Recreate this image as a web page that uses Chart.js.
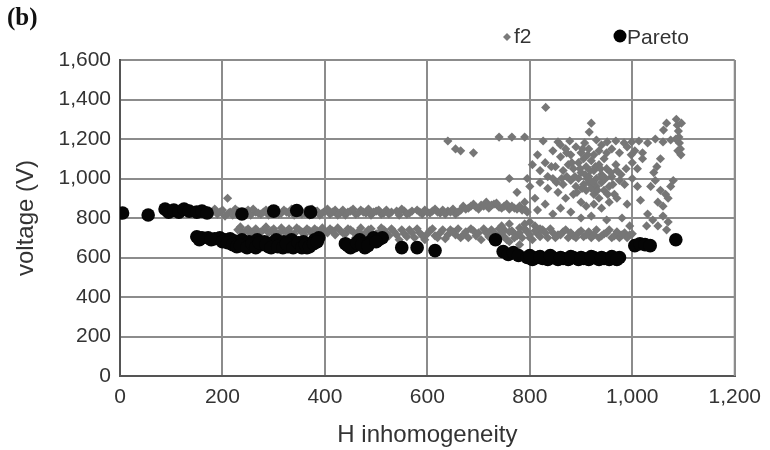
<!DOCTYPE html>
<html>
<head>
<meta charset="utf-8">
<script src="https://cdn.jsdelivr.net/npm/chart.js@4/dist/chart.umd.min.js"></script>
<style>
  html, body { margin: 0; padding: 0; background: #fff; }
  #wrap { width: 770px; height: 450px; position: relative; }
</style>
</head>
<body>
<div id="wrap"><canvas id="c" width="770" height="450"></canvas></div>
<script>
// ---- data ----
const xTicks = [0, 200, 400, 600, 800, 1000, 1200];
const yTicks = [0, 200, 400, 600, 800, 1000, 1200, 1400, 1600];
const seriesNames = ["f2", "Pareto"];

// f2: upper band (~800-880 V)
const f2Upper = [
  [180,830],[190,820],[200,840],[205,810],[210,900],[215,830],[220,815],[230,835],[240,825],[250,840],
  [255,815],[265,830],[275,820],[285,840],[290,815],[300,830],[310,820],[320,840],[330,825],[340,815],
  [345,835],[355,820],[365,840],[380,825],[390,815],[400,835],[410,820],[420,840],[430,825],[440,815],
  [450,835],[460,820],[470,840],[480,825],[490,815],[500,835],[510,820],[520,840],[530,830],[545,815],
  [555,835],[565,825],[580,840],[590,820],[600,830],[615,845],[625,825],[640,835],[655,820],[665,840],
  [670,860],[680,850],[690,870],[700,845],[705,865],[715,880],[720,850],[730,870],[740,855],[750,860],
  [760,845],[770,850],[785,840],[795,830]
];
const f2UpperB = [
  [185,845],[195,830],[212,825],[225,845],[235,815],[245,830],[260,845],[270,825],[280,830],[295,845],
  [305,835],[315,825],[325,830],[335,845],[350,830],[360,825],[370,815],[375,845],[385,835],[395,825],
  [405,845],[415,830],[425,815],[435,840],[445,830],[455,845],[465,825],[475,830],[485,845],[495,830],
  [505,840],[515,825],[525,820],[540,835],[550,845],[560,820],[570,835],[585,830],[595,840],[605,825],
  [610,835],[620,830],[630,840],[635,820],[645,830],[650,845],[660,830],[675,845],[685,860],[695,855],
  [710,860],[725,865],[735,875],[745,850],[755,870],[765,860],[775,845],[780,860],[790,845]
];
// f2: lower band (~680-780 V)
const f2Lower = [
  [230,740],[240,725],[250,745],[260,730],[270,715],[280,740],[290,725],[300,745],[310,720],[320,735],
  [330,745],[340,720],[350,740],[360,715],[370,735],[380,745],[390,720],[400,730],[410,745],[420,715],
  [430,735],[440,720],[450,740],[460,700],[465,730],[475,715],[485,740],[495,700],[505,725],[515,740],
  [525,710],[535,730],[545,690],[555,720],[565,740],[575,700],[585,725],[595,690],[605,735],[615,710],
  [625,725],[635,695],[645,740],[655,715],[665,700],[675,730],[685,745],[695,710],[705,690],[715,725],
  [725,740],[735,700],[745,720],[755,690],[765,735],[775,710],[785,700],[795,730],[805,690],[815,720],
  [825,740],[835,700],[845,725],[855,715],[865,730],[875,700],[885,710],[895,725],[905,705],[915,730],
  [925,715],[935,700],[945,720],[955,740],[965,710],[975,700],[985,725],[995,715],
  [745,760],[760,770],[780,750],[790,770],[800,780],[810,760],[820,745],[760,680],[780,665],[800,700],
  [770,720],[750,740]
];
const f2LowerB = [
  [235,755],[245,735],[255,720],[265,745],[275,730],[285,755],[295,735],[305,725],[315,750],[325,730],
  [335,720],[345,750],[355,730],[365,745],[375,725],[385,735],[395,750],[405,725],[415,735],[425,750],
  [435,725],[445,745],[455,730],[470,750],[480,725],[490,745],[500,720],[510,750],[520,725],[530,745],
  [540,715],[550,740],[560,705],[570,725],[580,745],[590,710],[600,720],[610,745],[620,700],[630,740],
  [640,715],[650,730],[660,745],[670,715],[680,700],[690,735],[700,725],[710,745],[720,705],[730,725],
  [740,745],[750,705],[760,730],[770,700],[780,725],[790,745],[800,715],[810,735],[820,705],[830,725],
  [840,745],[850,700],[860,715],[870,740],[880,725],[890,700],[900,735],[910,715],[920,700],[930,740],
  [940,710],[950,725],[960,700],[970,730],[980,715],[990,700],[1000,720]
];
// f2: scattered cloud (x 640-1100, up to ~1360 V)
const f2Cloud = [
  [640,1190],[655,1150],[665,1140],[690,1130],[740,1210],[765,1210],[790,1210],[831,1360],[920,1280],[916,1235],
  [826,1190],[855,1185],[878,1190],[907,1180],[930,1195],[951,1185],[968,1190],[984,1180],[999,1185],[1013,1190],
  [1030,1180],[1045,1200],[1060,1185],[1075,1195],
  [815,1120],[830,1080],[845,1140],[860,1110],[870,1150],[880,1120],[890,1160],[900,1130],[905,1100],[915,1150],
  [925,1120],[935,1140],[945,1100],[960,1150],[975,1130],[990,1160],[1005,1140],[1020,1130],
  [850,1060],[865,1040],[875,1070],[885,1050],[895,1080],[900,1030],[910,1060],[915,1010],[920,1090],[925,1040],
  [930,1000],[935,1070],[940,1020],[950,1050],[960,1010],[970,1040],
  [880,990],[890,960],[895,1000],[905,970],[910,940],[915,980],[920,950],[925,920],[930,960],[935,900],
  [940,980],[945,940],[955,960],[965,920],[975,990],[985,970],
  [820,980],[835,950],[845,1000],[855,930],[865,970],[870,900],[885,920],[900,880],[910,860],[925,870],
  [940,850],[955,880],[970,900],[990,870],
  [760,1000],[775,930],[790,880],[800,960],[810,900],[815,840],[830,870],[845,820],[860,850],[880,830],
  [900,800],[920,810],[950,790],[980,800],[995,760],
  [1016,890],[1036,960],[1045,990],[1055,940],[1065,920],[1075,960],[1080,990],[1050,880],[1060,860],[1070,900],
  [1042,1030],[1048,1060],[1055,1100],[1061,1245],[1067,1280],
  [1030,820],[1040,790],[1050,760],[1060,810],[1070,780],[1067,740],[1028,760],
  [1086,1300],[1088,1270],[1090,1240],[1091,1210],[1092,1180],[1094,1150],[1095,1120],[1096,1280],[1085,1200],[1089,1140],
  [835,1010],[820,1040],[805,1070],[795,1000],[1000,1080],[1010,1050],[1020,1100],[1000,1000],[1010,960],
  [888,1010],[898,1050],[908,1020],[918,1040],[928,1060],[938,1050],[948,1000],[958,1030],[892,930],[902,950],
  [912,1000],[922,980],[932,940],[942,1010],[952,920],[962,970],[872,1010],[882,1080],[862,1000],[852,980],
  [842,1060],[968,1070],[978,1020],[988,1050],[998,1120],[903,1150],[913,1120],[940,1170],[950,1130],[872,1130],
  [860,1170]
];
// Pareto front points
const paretoUpper = [
  [5,825],[55,815],[88,845],[95,830],[105,840],[115,830],[125,845],[135,835],[150,830],[160,835],
  [170,825],[238,820],[300,835],[345,838],[372,830]
];
const paretoLower = [
  [150,705],[160,700],[172,700],[185,695],[195,700],[205,690],[215,695],[222,685],[230,670],[238,690],
  [245,665],[252,680],[260,660],[268,690],[275,665],[282,680],[290,655],[298,675],[305,690],[312,665],
  [320,680],[328,655],[335,690],[342,670],[350,660],[358,680],[365,650],[372,670],[380,690],[388,700],
  [440,670],[450,650],[458,660],[468,690],[478,650],[488,680],[495,700],[505,690],[512,700],[550,650],
  [580,650],[615,635],[733,690],[748,630],[758,615],[768,625],[778,610],[795,600],[805,590],[815,600],
  [825,595],[835,590],[845,600],[855,590],[865,595],[875,590],[885,600],[895,590],[905,595],[915,590],
  [925,600],[935,590],[945,595],[955,590],[965,595],[975,600],[1005,660],[1015,670],[1025,665],[1035,660],
  [1085,690]
];
const paretoLowerB = [
  [155,690],[178,690],[200,680],[210,675],[220,665],[228,655],[235,660],[248,650],[258,670],[265,650],
  [272,675],[285,665],[295,650],[308,655],[318,650],[325,670],[338,650],[348,675],[355,650],[362,665],
  [370,655],[378,670],[385,680],[445,660],[462,675],[472,665],[484,660],[500,680],
  [800,610],[820,605],[840,610],[860,600],[880,605],[900,600],[920,605],[940,600],[960,605],[970,590]
];

const toPts = arr => arr.map(p => ({ x: p[0], y: p[1] }));
const f2Data = toPts([].concat(f2Upper, f2UpperB, f2Lower, f2LowerB, f2Cloud));
const paretoData = toPts([].concat(paretoUpper, paretoLower, paretoLowerB));

const FONT = "'Liberation Sans', Arial, sans-serif";
const TEXT = '#333333';

// chart area placement (pixels)
const AREA = { left: 120, right: 742, top: 60, bottom: 376 };

const overlay = {
  id: 'overlay',
  afterDraw(chart) {
    const ctx = chart.ctx;
    ctx.save();
    ctx.fillStyle = '#111';
    ctx.font = "bold 25px 'Liberation Serif', 'Times New Roman', serif";
    ctx.textBaseline = 'middle';
    ctx.textAlign = 'left';
    ctx.fillText('(b)', 7, 19);
    ctx.font = '21px ' + FONT;
    // f2 marker (diamond)
    ctx.fillStyle = '#7a7a7a';
    ctx.beginPath();
    ctx.moveTo(507, 33); ctx.lineTo(511, 37); ctx.lineTo(507, 41); ctx.lineTo(503, 37); ctx.closePath();
    ctx.fill();
    ctx.fillStyle = TEXT;
    ctx.fillText(seriesNames[0], 514, 37);
    // Pareto marker
    ctx.fillStyle = '#000';
    ctx.beginPath();
    ctx.arc(620, 36, 6.5, 0, Math.PI * 2);
    ctx.fill();
    ctx.fillStyle = TEXT;
    ctx.fillText(seriesNames[1], 627, 38);
    ctx.restore();
  }
};

new Chart(document.getElementById('c'), {
  type: 'scatter',
  data: {
    datasets: [
      {
        label: seriesNames[1],
        data: paretoData,
        pointStyle: 'circle',
        pointRadius: 6.8,
        pointBackgroundColor: '#050505',
        pointBorderColor: '#050505',
        pointBorderWidth: 0,
        order: 0
      },
      {
        label: seriesNames[0],
        data: f2Data,
        pointStyle: 'rectRot',
        pointRadius: 4.6,
        pointBackgroundColor: '#767676',
        pointBorderColor: '#767676',
        pointBorderWidth: 0,
        order: 1
      }
    ]
  },
  options: {
    responsive: false,
    animation: false,
    events: [],
    layout: { padding: { top: AREA.top, right: 770 - AREA.right, left: 0, bottom: 0 } },
    plugins: { legend: { display: false }, tooltip: { enabled: false } },
    scales: {
      x: {
        type: 'linear',
        min: xTicks[0], max: xTicks[xTicks.length - 1],
        afterBuildTicks(scale) { scale.ticks = xTicks.map(v => ({ value: v })); },
        afterFit(scale) { scale.height = 450 - AREA.bottom; },
        ticks: {
          color: TEXT, font: { family: FONT, size: 21 }, padding: 9, maxRotation: 0,
          callback: v => v.toLocaleString('en-US')
        },
        grid: { color: '#8c8c8c', lineWidth: 2, drawTicks: false },
        border: { display: true, color: '#555', width: 2 },
        title: { display: true, text: 'H inhomogeneity', color: TEXT, font: { family: FONT, size: 24 }, padding: { top: 0, bottom: 0 } }
      },
      y: {
        type: 'linear',
        min: yTicks[0], max: yTicks[yTicks.length - 1],
        afterBuildTicks(scale) { scale.ticks = yTicks.map(v => ({ value: v })); },
        afterFit(scale) { scale.width = AREA.left; },
        ticks: {
          color: TEXT, font: { family: FONT, size: 21 }, padding: 9,
          callback: v => v.toLocaleString('en-US')
        },
        grid: { color: '#8c8c8c', lineWidth: 2, drawTicks: false },
        border: { display: true, color: '#555', width: 2 },
        title: { display: true, text: 'voltage (V)', color: TEXT, font: { family: FONT, size: 24 }, padding: { top: 12, bottom: 0 } }
      }
    }
  },
  plugins: [overlay, {
    id: 'rightBorder',
    afterDatasetsDraw(chart) {
      const a = chart.chartArea, ctx = chart.ctx;
      ctx.save();
      ctx.strokeStyle = '#8c8c8c'; ctx.lineWidth = 2;
      ctx.beginPath(); ctx.moveTo(a.right, a.top); ctx.lineTo(a.right, a.bottom); ctx.stroke();
      ctx.restore();
    }
  }]
});
</script>
</body>
</html>
